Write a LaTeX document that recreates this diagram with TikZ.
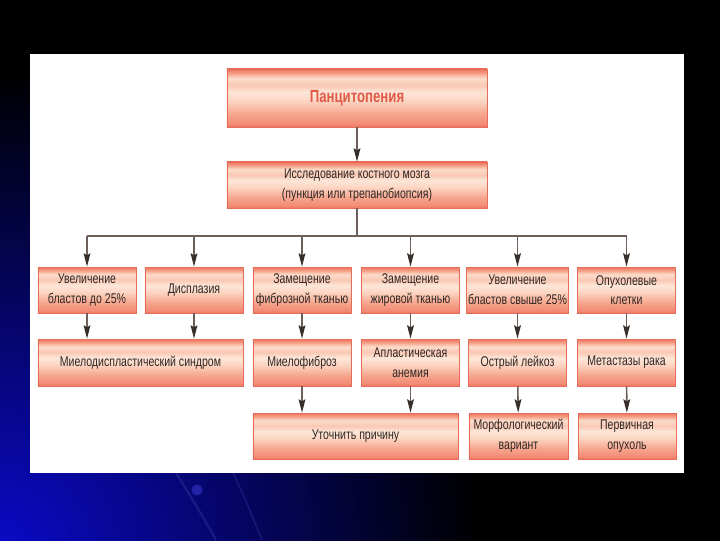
\documentclass[tikz,border=0pt]{standalone}
\usepackage{fontspec}
\setmainfont{Liberation Sans}[FakeStretch=0.75]
\usetikzlibrary{arrows.meta}
\definecolor{ink}{HTML}{2E2624}
\definecolor{titlered}{HTML}{E05A48}
\definecolor{linegray}{HTML}{6E5F5A}
\definecolor{tipdark}{HTML}{372D2A}
\definecolor{cellline}{HTML}{E46C58}
\definecolor{celledge}{HTML}{EC7460}
\definecolor{cella}{HTML}{F38C76}
\definecolor{cellb}{HTML}{F6A48C}
\definecolor{cellc}{HTML}{FCD5C2}
\definecolor{celld}{HTML}{FDE6D8}
\definecolor{celle}{HTML}{F9C8B4}
\definecolor{cellf}{HTML}{FCDCCA}
\definecolor{cellg}{HTML}{F4957C}
\definecolor{bgblue}{HTML}{0A0AC8}
\definecolor{arcblue}{HTML}{2A2A90}
\pgfdeclareverticalshading{cellshade}{100bp}{color(0bp)=(celledge); color(25bp)=(celledge);
  color(28bp)=(cella); color(36bp)=(cellb); color(47.5bp)=(cellc); color(55bp)=(celld);
  color(61bp)=(celle); color(67bp)=(cellf); color(72bp)=(cellg); color(75bp)=(celledge);
  color(100bp)=(celledge)}
\tikzset{
  cell/.style={draw=cellline, line width=0.5pt, shade, shading=cellshade, align=center,
    inner xsep=1pt, text=ink, font=\fontsize{10}{14}\selectfont,
    minimum width=2.45cm, minimum height=1.15cm},
  link/.style={-{Stealth[length=9.5pt,width=4.8pt,inset=1.5pt,color=tipdark]}, line width=1.1pt, draw=linegray},
  bus/.style={line width=1.1pt, draw=linegray},
}
\begin{document}
\begin{tikzpicture}[x=0.025cm, y=-0.025cm]
  \useasboundingbox (0,0) rectangle (720,540);
  \fill[black] (-4,-4) rectangle (724,544);
  \begin{scope}
    \clip (-4,-4) rectangle (724,544);
    \shade[inner color=bgblue, outer color=black] (0,550) circle (480);
  \end{scope}
  \draw[arcblue, line width=1.5pt, opacity=0.6] (176,473) .. controls (195,503) and (206,522) .. (216,540);
  \draw[arcblue, line width=1.2pt, opacity=0.5] (233,473) .. controls (247,503) .. (262,540);
  \fill[arcblue!80!blue] (197,490) circle (5.5);
  \fill[white] (30,54) rectangle (684,473);

  \node[cell, minimum width=6.5cm, minimum height=1.45cm, text=titlered, font=\bfseries\fontsize{12.5}{14}\selectfont] (pan) at (357,98) {Панцитопения};
  \node[cell, minimum width=6.5cm] (exam) at (357,185) {Исследование костного мозга\\(пункция или трепанобиопсия)};

  \node[cell] (bl) at (87,290) {Увеличение\\бластов до 25\%};
  \node[cell] (dys) at (194,290) {Дисплазия};
  \node[cell] (fib) at (302,290) {Замещение\\фиброзной тканью};
  \node[cell] (fat) at (410.5,290) {Замещение\\жировой тканью};
  \node[cell] (bh) at (517.5,290) {Увеличение\\бластов свыше 25\%};
  \node[cell] (tum) at (626.5,290) {Опухолевые\\клетки};

  \node[cell, minimum width=5.125cm, minimum height=1.175cm] (mds) at (140.5,362.5) {Миелодиспластический синдром};
  \node[cell, minimum height=1.175cm] (mf) at (302,362.5) {Миелофиброз};
  \node[cell, minimum height=1.175cm] (aa) at (410.5,362.5) {Апластическая\\анемия};
  \node[cell, minimum height=1.175cm] (ol) at (517.5,362.5) {Острый лейкоз};
  \node[cell, minimum height=1.175cm] (mr) at (626.5,362.5) {Метастазы рака};

  \node[cell, minimum width=5.125cm] (ut) at (355.5,436) {Уточнить причину};
  \node[cell, minimum width=2.475cm] (mv) at (518.5,436) {Морфологический\\вариант};
  \node[cell] (po) at (627,436) {Первичная\\опухоль};

  \coordinate (busl) at (87,236);
  \coordinate (busr) at (626.5,236);
  \draw[link] (pan) -- (exam);
  \draw[bus] (exam) -- (exam |- busl);
  \draw[bus] (busl) -- (busr);
  \foreach \n in {bl,dys,fib,fat,bh,tum} {\draw[link] (\n |- busl) -- (\n);}
  \draw[link] (bl) -- (bl |- mds.north);
  \draw[link] (dys) -- (dys |- mds.north);
  \draw[link] (fib) -- (mf);
  \draw[link] (fat) -- (aa);
  \draw[link] (bh) -- (ol);
  \draw[link] (tum) -- (mr);
  \draw[link] (mf) -- (mf |- ut.north);
  \draw[link] (aa) -- (aa |- ut.north);
  \draw[link] (ol) -- (mv);
  \draw[link] (mr) -- (po);
\end{tikzpicture}
\end{document}
